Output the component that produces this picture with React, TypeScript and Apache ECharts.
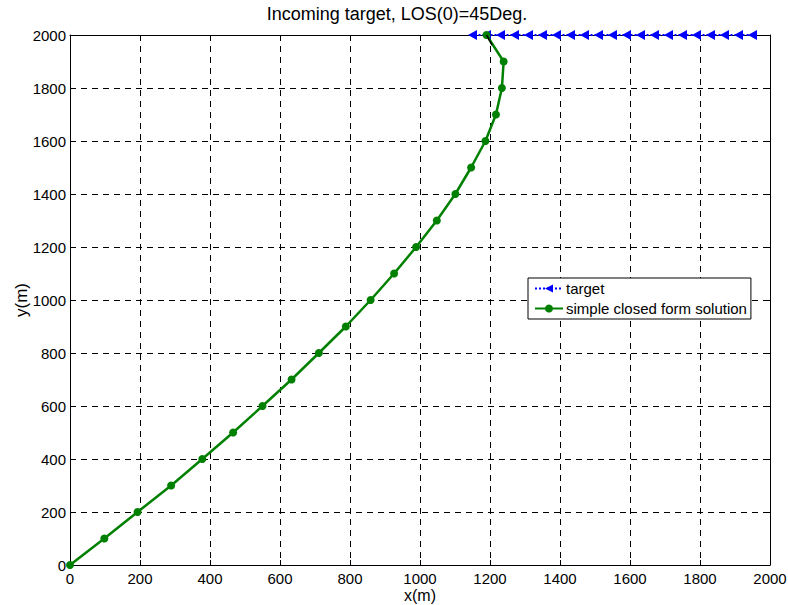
import React, { useEffect, useRef } from "react";
import * as echarts from "echarts";

const xTicks = [0, 200, 400, 600, 800, 1000, 1200, 1400, 1600, 1800, 2000];
const targetX = [1950, 1910, 1870, 1830, 1790, 1750, 1710, 1670, 1630, 1590, 1550, 1510, 1470, 1430, 1390, 1350, 1310, 1270, 1230, 1190, 1150];
const targetY = [2000, 2000, 2000, 2000, 2000, 2000, 2000, 2000, 2000, 2000, 2000, 2000, 2000, 2000, 2000, 2000, 2000, 2000, 2000, 2000, 2000];
const missileX = [0, 98, 193, 289, 378, 466, 550, 633, 711, 788, 859, 926, 989, 1048, 1101, 1146, 1187, 1217, 1234, 1239, 1190];
const missileY = [0, 100, 200, 300, 400, 500, 600, 700, 800, 900, 1000, 1100, 1200, 1300, 1400, 1500, 1600, 1700, 1800, 1900, 2000];
const arrowX = [1190, 1206];
const arrowY = [2000, 1962];

const FONT = "Liberation Sans, Arial, sans-serif";

export default function App() {
  const ref = useRef<HTMLDivElement>(null);
  useEffect(() => {
    const chart = echarts.init(ref.current!, null, { renderer: "svg" });
    const axisCommon = {
      type: "value" as const,
      min: 0,
      max: 2000,
      interval: 200,
      axisLine: { show: true, onZero: false, lineStyle: { color: "#000", width: 1 } },
      axisTick: { show: true, inside: true, length: 5, lineStyle: { color: "#000" } },
    };
    chart.setOption({
      animation: false,
      backgroundColor: "#fff",
      textStyle: { fontFamily: FONT },
      title: {
        text: "Incoming target, LOS(0)=45Deg.",
        left: 392,
        top: 0,
        textAlign: "center",
        textStyle: { fontFamily: FONT, fontSize: 18, fontWeight: "normal", color: "#000" },
      },
      grid: { left: 70, right: 18, top: 35, bottom: 40, containLabel: false, outerBoundsMode: "none" },
      legend: {
        left: 528,
        top: 278,
        orient: "vertical",
        backgroundColor: "#fff",
        borderColor: "#000",
        borderWidth: 1,
        borderRadius: 0,
        padding: [3, 4, 3, 6],
        itemGap: 5,
        itemWidth: 28,
        itemHeight: 10,
        textStyle: { fontFamily: FONT, fontSize: 15, color: "#000", padding: [0, 0, 0, -2] },
        data: ["target", "simple closed form solution"],
      },
      xAxis: [
        {
          ...axisCommon,
          position: "bottom",
          name: "x(m)",
          nameLocation: "middle",
          nameGap: 22,
          nameMoveOverlap: false,
          nameTextStyle: { fontFamily: FONT, fontSize: 16, color: "#000" },
          axisLabel: { color: "#000", fontSize: 15, fontFamily: FONT, margin: 6, formatter: (v: number) => (xTicks.includes(v) ? String(v) : "") },
          splitLine: { show: true, lineStyle: { color: "#000", type: [6, 5], width: 1 } },
        },
        {
          ...axisCommon,
          position: "top",
          axisLabel: { show: false },
          splitLine: { show: false },
        },
      ],
      yAxis: [
        {
          ...axisCommon,
          position: "left",
          name: "y(m)",
          nameLocation: "middle",
          nameGap: 40,
          nameMoveOverlap: false,
          nameTextStyle: { fontFamily: FONT, fontSize: 17, color: "#000" },
          axisLabel: { color: "#000", fontSize: 15, fontFamily: FONT, margin: 4, formatter: (v: number) => String(v) },
          splitLine: { show: true, lineStyle: { color: "#000", type: [6, 5], width: 1 } },
        },
        {
          ...axisCommon,
          position: "right",
          axisLabel: { show: false },
          splitLine: { show: false },
        },
      ],
      series: [
        {
          name: "simple closed form solution",
          type: "line",
          clip: false,
          data: missileX.map((x, i) => [x, missileY[i]]),
          symbol: "circle",
          symbolSize: 8,
          itemStyle: { color: "#008000" },
          lineStyle: { color: "#008000", width: 2.5 },
          z: 3,
        },
        {
          name: "target",
          type: "line",
          clip: false,
          data: targetX.map((x, i) => [x, targetY[i]]),
          symbol: "triangle",
          symbolRotate: 90,
          symbolSize: [10, 9],
          itemStyle: { color: "#0000ff" },
          lineStyle: { color: "#0000ff", width: 2, type: "dotted" },
          z: 2,
        },
        {
          name: "arrow",
          type: "line",
          clip: false,
          data: arrowX.map((x, i) => [x, arrowY[i]]),
          symbol: "none",
          lineStyle: { color: "#000", width: 1.5 },
          z: 4,
        },
      ],
    });
    return () => chart.dispose();
  }, []);
  return <div ref={ref} style={{ width: 788, height: 605, position: "absolute", left: 0, top: 0 }} />;
}
